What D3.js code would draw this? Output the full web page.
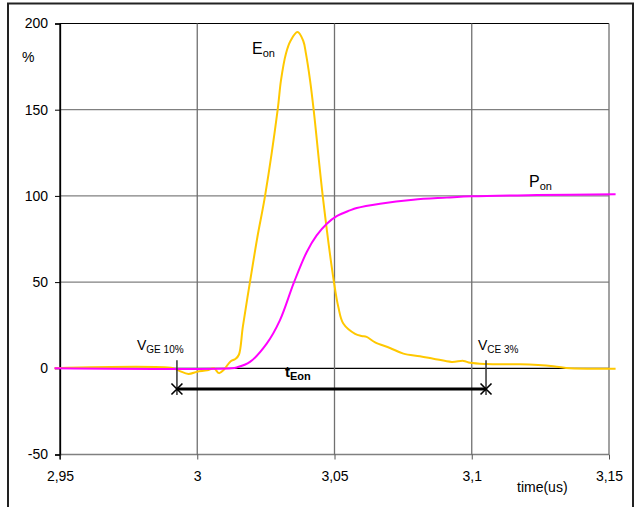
<!DOCTYPE html>
<html><head><meta charset="utf-8">
<script src="https://cdn.jsdelivr.net/npm/d3@7"></script>
<style>body{margin:0;background:#fff}text{font-family:"Liberation Sans",Arial,sans-serif}</style>
</head><body><svg id="c" width="639" height="507"></svg>
<script>
const xTicks = [2.95, 3.0, 3.05, 3.1, 3.15];
const xTickLabels = ["2,95", "3", "3,05", "3,1", "3,15"];
const yTicks = [-50, 0, 50, 100, 150, 200];
const eonT = [2.948, 2.9912, 2.9935, 2.9968, 3.0, 3.0036, 3.0061, 3.0079, 3.0097, 3.0121, 3.014, 3.0152, 3.0166, 3.0192, 3.0219, 3.0247, 3.0293, 3.0305, 3.0323, 3.034, 3.0365, 3.0386, 3.0396, 3.0411, 3.0424, 3.0459, 3.0498, 3.0514, 3.0532, 3.0575, 3.0599, 3.0617, 3.0648, 3.0702, 3.0751, 3.0811, 3.086, 3.0927, 3.097, 3.0994, 3.1055, 3.1176, 3.1297, 3.1358, 3.1478, 3.1524];
const eonV = [0, 0, -1.5, -3.3, -2, -1.2, 0, -2.8, -0.8, 4, 5.5, 8, 24, 50, 76, 100, 150, 167, 182.5, 190, 195, 190, 182.5, 167, 150, 97.4, 50, 35.5, 26, 20, 18.7, 18.2, 15, 11.8, 8.5, 7, 5.6, 3.7, 4.3, 3.2, 2.5, 2.3, 1.2, 0, -0.3, -0.3];
const ponT = [2.948, 3.0125, 3.0144, 3.0192, 3.0253, 3.0301, 3.0352, 3.0399, 3.0435, 3.0472, 3.0508, 3.0556, 3.0581, 3.0666, 3.0787, 3.0909, 3.1, 3.1237, 3.1524];
const ponV = [0, 0, 0.5, 3.7, 14.3, 27.8, 49.7, 67.5, 77.1, 83.9, 88.3, 91.6, 93, 95.5, 97.8, 99, 99.8, 100.5, 100.9];
const markerT = [2.9926, 3.1052];
const barV = -12;

const svg = d3.select("#c");
const x = d3.scaleLinear().domain([2.95, 3.15]).range([60, 609]);
const y = d3.scaleLinear().domain([-50, 200]).range([454.5, 23.5]);

// outer frame
svg.append("rect").attr("x", 8).attr("y", 3.5).attr("width", 625).attr("height", 540)
  .attr("fill", "none").attr("stroke", "#222").attr("stroke-width", 2);

// gridlines
const g = svg.append("g");
yTicks.forEach(v => {
  g.append("line").attr("x1", x(2.95)).attr("x2", x(3.15)).attr("y1", y(v)).attr("y2", y(v))
    .attr("stroke", (v === 0 || v === 200) ? "#000" : "#808080").attr("stroke-width", v === -50 ? 1.5 : 1.2);
});
xTicks.slice(1).forEach(t => {
  g.append("line").attr("x1", x(t)).attr("x2", x(t)).attr("y1", y(200)).attr("y2", y(-50))
    .attr("stroke", "#707070").attr("stroke-width", 1.3);
});

// axes
const ya = svg.append("g").attr("transform", `translate(${x(2.95)},0)`)
  .call(d3.axisLeft(y).tickValues(yTicks).tickSize(5).tickPadding(7).tickFormat(d => d));
ya.select(".domain").attr("stroke", "#000").attr("stroke-width", 1.3);
ya.selectAll("text").attr("font-size", 14).attr("fill", "#000");
const xa = svg.append("g").attr("transform", `translate(0,${y(-50)})`)
  .call(d3.axisBottom(x).tickValues(xTicks).tickSize(5).tickPadding(12).tickFormat((d, i) => xTickLabels[i]));
xa.select(".domain").remove();
xa.selectAll("line").attr("stroke", "#555");
xa.selectAll("text").attr("font-size", 14).attr("fill", "#000");
svg.append("line").attr("x1", x(2.95)).attr("x2", x(2.95)).attr("y1", y(200)).attr("y2", y(-50) + 5)
  .attr("stroke", "#000").attr("stroke-width", 1.3);

svg.append("text").attr("x", 22).attr("y", 62).attr("font-size", 14).text("%");
svg.append("text").attr("x", 517).attr("y", 492).attr("font-size", 14).text("time(us)");

// curves
const line = d3.line().x(d => x(d[0])).y(d => y(d[1])).curve(d3.curveCatmullRom.alpha(0.5));
svg.append("path").datum(eonT.map((t, i) => [t, eonV[i]])).attr("d", line)
  .attr("fill", "none").attr("stroke", "#FFC800").attr("stroke-width", 2);
svg.append("path").datum(ponT.map((t, i) => [t, ponV[i]])).attr("d", line)
  .attr("fill", "none").attr("stroke", "#FF00FF").attr("stroke-width", 2);

// markers
markerT.forEach(t => {
  svg.append("line").attr("x1", x(t)).attr("x2", x(t)).attr("y1", y(4.6)).attr("y2", y(-15.5))
    .attr("stroke", "#333").attr("stroke-width", 1.5);
});
svg.append("line").attr("x1", x(markerT[0])).attr("x2", x(markerT[1])).attr("y1", y(barV)).attr("y2", y(barV))
  .attr("stroke", "#000").attr("stroke-width", 3);
markerT.forEach(t => {
  const cx = x(t), cy = y(barV), s = 5.5;
  svg.append("path").attr("d", `M${cx - s},${cy - s}L${cx + s},${cy + s}M${cx - s},${cy + s}L${cx + s},${cy - s}`)
    .attr("stroke", "#000").attr("stroke-width", 1.6);
});

// labels
function sublabel(px, py, main, sub, size, subSize, bold) {
  const t = svg.append("text").attr("x", px).attr("y", py).attr("font-size", size)
    .attr("font-weight", bold ? "bold" : "normal");
  t.append("tspan").text(main);
  t.append("tspan").attr("dy", 3).attr("font-size", subSize).text(sub);
}
sublabel(252, 54, "E", "on", 16, 11, false);
sublabel(529, 187, "P", "on", 16, 11, false);
sublabel(137, 349.5, "V", "GE 10%", 14, 10, false);
sublabel(478, 349.5, "V", "CE 3%", 14, 10, false);
sublabel(285, 377, "t", "Eon", 15, 11, true);
</script></body></html>
